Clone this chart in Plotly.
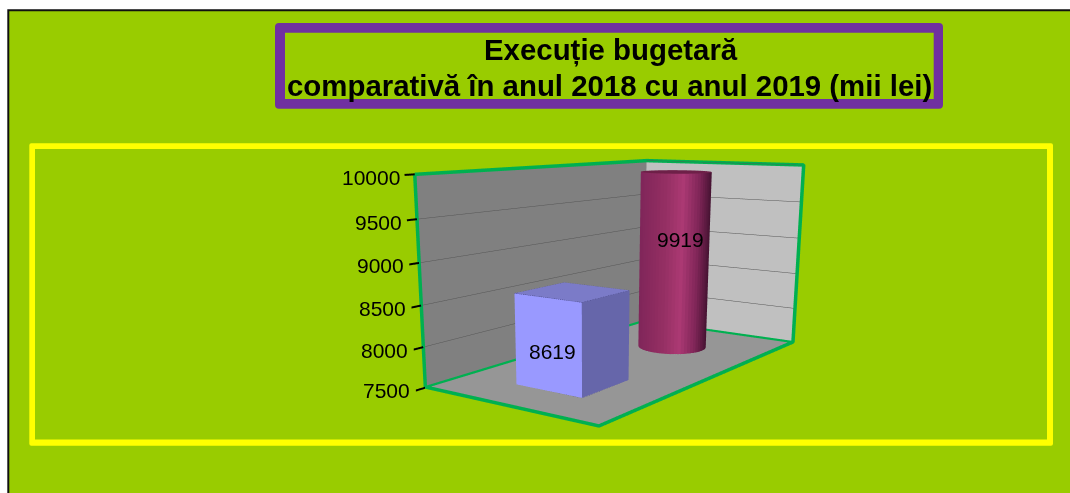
import numpy as np
import plotly.graph_objects as go

# ---- data
years = ["2018", "2019"]
values = [8619, 9919]
ticks = [7500, 8000, 8500, 9000, 9500, 10000]
title_lines = ["Execuție bugetară", "comparativă în anul 2018 cu anul 2019 (mii lei)"]

# ---- page: the figure is taller than the 493 px window because plotly's fixed 45 degree
# field of view follows the scene height; the lower part is simply cut off by the window.
W, H_FIG = 1070, 780
CX = 590.0
EYE = dict(x=-1.9806, y=-1.3225, z=0.3582)
CENTER = dict(x=-0.1176, y=0.0312, z=-0.2975)
ASPECT = dict(x=0.9518, y=0.5042, z=0.4924)
UP = dict(x=0.0031, y=-0.0044, z=1)

def px(x): return x/W
def py(y): return 1-y/H_FIG

def ring(x0, y0, x1, y1, rad):
    return (f"M{px(x0+rad)},{py(y0)} L{px(x1-rad)},{py(y0)} Q{px(x1)},{py(y0)} {px(x1)},{py(y0+rad)} "
            f"L{px(x1)},{py(y1-rad)} Q{px(x1)},{py(y1)} {px(x1-rad)},{py(y1)} L{px(x0+rad)},{py(y1)} "
            f"Q{px(x0)},{py(y1)} {px(x0)},{py(y1-rad)} L{px(x0)},{py(y0+rad)} Q{px(x0)},{py(y0)} {px(x0+rad)},{py(y0)} Z ")
def inner(x0, y0, x1, y1):
    return f"M{px(x0)},{py(y0)} L{px(x1)},{py(y0)} L{px(x1)},{py(y1)} L{px(x0)},{py(y1)} Z"

shapes = [
    dict(type="rect", xref="paper", yref="paper", x0=px(8.3), x1=px(1075), y0=py(10.2), y1=py(H_FIG+5),
         fillcolor="#99cc00", line=dict(color="#111111", width=2), layer="below"),
    dict(type="path", xref="paper", yref="paper", path=ring(275, 23, 943, 108.7, 4)+inner(285, 32.7, 933.7, 99),
         fillcolor="#7030a0", line=dict(width=0), fillrule="evenodd", layer="below"),
    dict(type="path", xref="paper", yref="paper", path=ring(29.3, 143.3, 1053, 445.7, 2)+inner(35, 149, 1047, 439.5),
         fillcolor="#ffff00", line=dict(width=0), fillrule="evenodd", layer="below"),
]

fig = go.Figure()
X0, X1 = 0, 2
Y0, Y1 = 0, 1
Z0, Z1 = ticks[0], ticks[-1]
HALF_X, HALF_Y = 0.2, 0.1935
box_x, box_y = 0.512, 0.4975
cyl_x, cyl_y = 1.49, 0.505
FLAT = dict(ambient=1, diffuse=0, specular=0, fresnel=0, roughness=1)

# box for the first category
bx = [box_x-HALF_X, box_x+HALF_X]; by = [box_y-HALF_Y, box_y+HALF_Y]
vx, vy, vz = [], [], []
for z_ in (Z0, values[0]):
    for a, b in ((0, 0), (1, 0), (1, 1), (0, 1)):
        vx.append(bx[a]); vy.append(by[b]); vz.append(z_)
faces = [((0, 1, 5), "#6666aa"), ((0, 5, 4), "#6666aa"),
         ((0, 3, 7), "#9999ff"), ((0, 7, 4), "#9999ff"),
         ((4, 5, 6), "#7b7bc8"), ((4, 6, 7), "#7b7bc8")]
fig.add_trace(go.Mesh3d(x=vx, y=vy, z=vz,
    i=[f[0][0] for f in faces], j=[f[0][1] for f in faces], k=[f[0][2] for f in faces],
    facecolor=[f[1] for f in faces], flatshading=True, lighting=FLAT, hoverinfo="skip"))
# dotted box edges
ex_ = [bx[0], bx[0], bx[1], bx[1], bx[0], bx[0], None, bx[0], bx[0], bx[1]]
ey_ = [by[1], by[0], by[0], by[1], by[1], by[0], None, by[1], by[0], by[0]]
top_z = values[0]
ez_ = [top_z]*6+[None]+[Z0]*3
fig.add_trace(go.Scatter3d(x=ex_, y=ey_, z=ez_, mode="lines",
    line=dict(color="#4a4a88", width=1, dash="dot"), hoverinfo="skip", connectgaps=False))

# cylinder for the second category
N = 64
RAD = 0.97
ang = np.linspace(0, 2*np.pi, N, endpoint=False)
cxs = cyl_x + RAD*HALF_X*np.cos(ang); cys = cyl_y + RAD*HALF_Y*np.sin(ang)
view = np.array([EYE["x"], EYE["y"]])/np.hypot(EYE["x"], EYE["y"])
stops_s = [-1, -0.3, 0.15, 0.6, 1]
stops_c = np.array([[128, 38, 90], [150, 48, 100], [172, 58, 116], [128, 38, 88], [66, 18, 48]], float)
cx3 = list(cxs)+list(cxs)+[cyl_x, cyl_x]
cy3 = list(cys)+list(cys)+[cyl_y, cyl_y]
cz3 = [Z0]*N+[values[1]]*N+[Z0, values[1]]
I, J_, K, FC = [], [], [], []
for n in range(N):
    m = (n+1) % N
    am = ang[n]+np.pi/N
    s = float(np.clip(-np.cos(am)*view[1] + np.sin(am)*view[0], -1, 1))
    col = [np.interp(s, stops_s, stops_c[:, c]) for c in range(3)]
    css = "rgb(%d,%d,%d)" % tuple(col)
    I += [n, n, N+n, 2*N]; J_ += [m, m+N, N+m, m]; K += [N+m, N+n, 2*N+1, n]
    FC += [css, css, "#6e2048", "#8a2a5e"]
fig.add_trace(go.Mesh3d(x=cx3, y=cy3, z=cz3, i=I, j=J_, k=K, facecolor=FC, flatshading=True,
    lighting=FLAT, hoverinfo="skip"))

# green frame of the walls and floor
LIFT = 8  # keeps the floor edges from fighting with the floor plane
fx = [X0, X1, X1, X1, X0, X0, X0]
fy = [Y1, Y1, Y0, Y0, Y0, Y1, Y1]
fz = [Z1, Z1, Z1, Z0+LIFT, Z0+LIFT, Z0+LIFT, Z1]
fig.add_trace(go.Scatter3d(x=fx, y=fy, z=fz, mode="lines",
    line=dict(color="#00b050", width=7), hoverinfo="skip"))
fig.add_trace(go.Scatter3d(x=[X0, X1, X1], y=[Y1, Y1, Y0], z=[Z0+LIFT]*3, mode="lines",
    line=dict(color="#00b050", width=5), hoverinfo="skip"))

FONT = dict(family="Liberation Sans", size=21, color="#000")
annos3d = [dict(x=X0, y=Y1, z=t, text=str(t), showarrow=False, xanchor="right", xshift=-13, yshift=-3,
                font=FONT) for t in ticks]
annos3d += [
    dict(x=box_x, y=box_y, z=(values[0]+Z0)/2, text=str(values[0]), showarrow=False,
         xshift=-20, yshift=-14, font=FONT),
    dict(x=cyl_x, y=cyl_y, z=(values[1]+Z0)/2, text=str(values[1]), showarrow=False,
         xshift=7, yshift=22, font=FONT),
]

hide = dict(showgrid=False, zeroline=False, showline=False, showticklabels=False, ticks="",
            showspikes=False, title="", showbackground=True)
hw = min(CX, W-CX)
TITLE_FONT = dict(family="Liberation Sans", size=29.4, color="#000")
fig.update_layout(
    width=W, height=H_FIG, margin=dict(l=0, r=0, t=0, b=0), paper_bgcolor="white",
    showlegend=False, shapes=shapes,
    annotations=[
        dict(xref="paper", yref="paper", x=px(611), y=py(50), yanchor="middle",
             text="<b>%s</b>" % title_lines[0], showarrow=False, font=TITLE_FONT),
        dict(xref="paper", yref="paper", x=px(609.5), y=py(85), yanchor="middle",
             text="<b>%s</b>" % title_lines[1], showarrow=False, font=TITLE_FONT),
    ],
    scene=dict(
        domain=dict(x=[px(CX-hw), px(CX+hw)], y=[0, 1]),
        bgcolor="rgba(0,0,0,0)",
        aspectmode="manual", aspectratio=ASPECT,
        camera=dict(eye=EYE, up=UP, center=CENTER),
        xaxis=dict(range=[X0, X1], backgroundcolor="#c0c0c0", **hide),
        yaxis=dict(range=[Y0, Y1], backgroundcolor="#808080", **hide),
        zaxis=dict(range=[Z0, Z1], backgroundcolor="#969696", tickvals=ticks, showgrid=True,
                   gridcolor="#555555", gridwidth=1, zeroline=False, showline=False, showticklabels=False,
                   ticks="outside", ticklen=1.2, tickcolor="#000", tickwidth=4, showspikes=False, title="",
                   showbackground=True),
        annotations=annos3d,
    ),
)
fig.write_html("out.html", config=dict(displayModeBar=False),
               post_script="document.body.style.margin='0';document.documentElement.style.overflow='hidden';")
